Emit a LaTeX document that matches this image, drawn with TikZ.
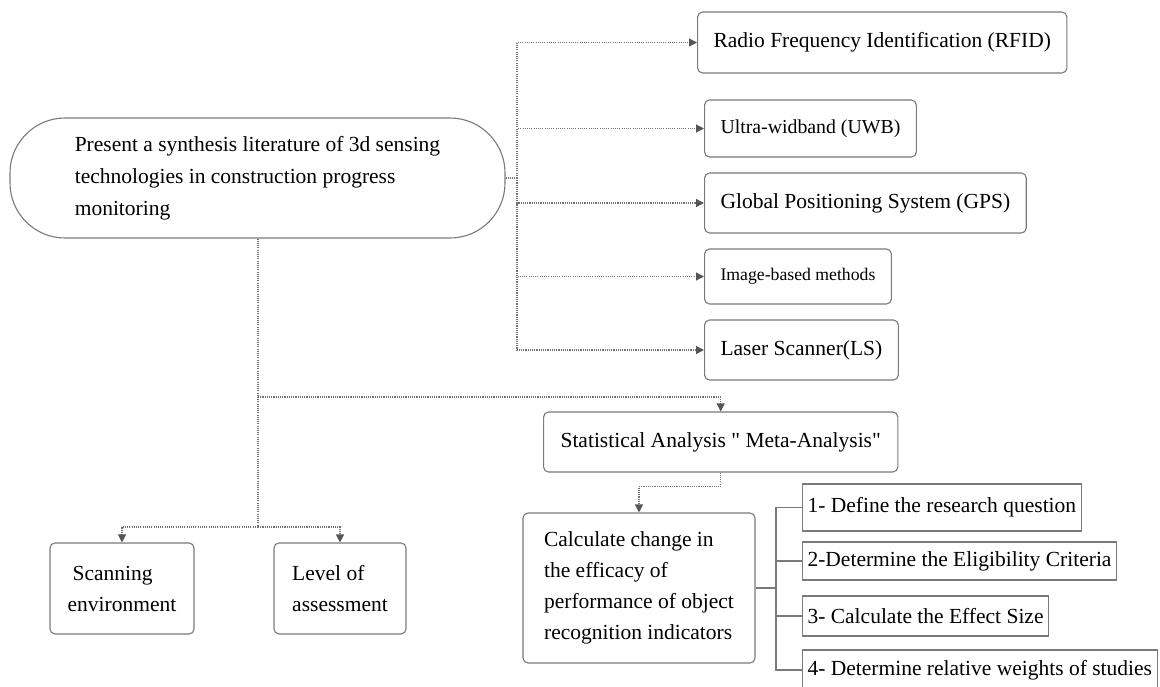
\documentclass[tikz,border=0pt]{standalone}
\usepackage{fontspec}
\setmainfont{Liberation Serif}[Ligatures=TeXOff]
\usetikzlibrary{arrows.meta,calc}
\definecolor{boxgray}{HTML}{7A7A7A}
\definecolor{linegray}{HTML}{727272}
\definecolor{tipgray}{HTML}{555555}
\newcommand\fsbig{\fontsize{21.5}{31}\selectfont}
\newcommand\fsmain{\fontsize{21.5}{32}\selectfont}
\newcommand\fsmid{\fontsize{19.8}{24}\selectfont}
\newcommand\fssmall{\fontsize{17.7}{22}\selectfont}
\begin{document}
\begin{tikzpicture}[x=1pt,y=-1pt,
  box/.style={draw=boxgray, line width=1.1pt, rounded corners=5pt, fill=white,
    inner ysep=0pt, inner xsep=16pt, anchor=west, font=\fsbig},
  stepbox/.style={draw=boxgray, line width=1.1pt, fill=white,
    inner ysep=0pt, inner xsep=5pt, anchor=west, font=\fsbig},
  dotl/.style={draw=linegray, line width=1.2pt, dash pattern=on 1.1pt off 1.1pt},
  dota/.style={dotl, -{Triangle[width=8pt,length=8pt,fill=tipgray,color=tipgray]}},
  brk/.style={draw=boxgray, line width=1.1pt}]
\useasboundingbox (0,0) rectangle (1160,686);

% main node
\node[draw=boxgray, line width=1.1pt, rounded corners=55pt, fill=white,
  minimum width=495pt, minimum height=120pt, inner sep=0pt, align=left, font=\fsmain]
  (main) at (257.5,178)
  {Present a synthesis literature of 3d sensing\\technologies in construction progress\\monitoring};

% technology boxes
\node[box, minimum height=61pt] (rfid) at (697,42.5) {Radio Frequency Identification (RFID)};
\node[box, minimum height=57pt, font=\fsmid] (uwb) at (704,128.5) {Ultra-widband (UWB)};
\node[box, minimum height=60pt] (gps) at (704,203) {Global Positioning System (GPS)};
\node[box, minimum height=55pt, font=\fssmall] (img) at (704,276.5) {Image-based methods};
\node[box, minimum height=60pt] (ls) at (704,350) {Laser Scanner(LS)};

% statistical analysis
\node[box, minimum height=60pt, inner xsep=17pt] (stat) at (543,442)
  {Statistical Analysis " Meta-Analysis"};

% calculate box
\node[draw=boxgray, line width=1.1pt, rounded corners=5pt, fill=white,
  minimum width=232pt, minimum height=150pt, inner sep=0pt, align=left, font=\fsbig]
  (calc) at (639,588)
  {Calculate change in\\the efficacy of\\performance of object\\recognition indicators};

% steps
\node[stepbox, minimum height=47pt] (s1) at (802,507.5) {1- Define the research question};
\node[stepbox, minimum height=38pt] (s2) at (802,561) {2-Determine the Eligibility Criteria};
\node[stepbox, minimum height=40pt] (s3) at (802,616) {3- Calculate the Effect Size};
\node[stepbox, minimum height=40pt] (s4) at (802,670) {4- Determine relative weights of studies};

% bottom-left boxes
\node[draw=boxgray, line width=1.1pt, rounded corners=5pt, fill=white,
  minimum width=144pt, minimum height=91pt, inner sep=0pt, align=left, font=\fsbig]
  (scan) at (122,588.5) {\hspace*{5pt}Scanning\\environment};
\node[draw=boxgray, line width=1.1pt, rounded corners=5pt, fill=white,
  minimum width=132pt, minimum height=91pt, inner sep=0pt, align=left, font=\fsbig]
  (level) at (340,588.5) {Level of\\assessment};

% connectors
\coordinate (busR) at (517,178);
\draw[dotl] (main.east) -- (busR);
\foreach \n in {rfid,uwb,gps,img,ls} \draw[dota] (busR) |- (\n.west);

\coordinate (jS) at (258,397);
\coordinate (jB) at (258,527);
\draw[dotl] (main.south -| jS) -- (jB);
\draw[dota] (jS) -| (stat.north);
\draw[dota] (jB) -| (scan.north);
\draw[dota] (jB) -| (level.north);
\draw[dota] (stat.south) -- ++(0,14) -| (calc.north);

\coordinate (jC) at (776,588);
\draw[brk] (calc.east) -- (jC);
\foreach \n in {s1,s2,s3,s4} \draw[brk] (jC) |- (\n.west);
\end{tikzpicture}
\end{document}
